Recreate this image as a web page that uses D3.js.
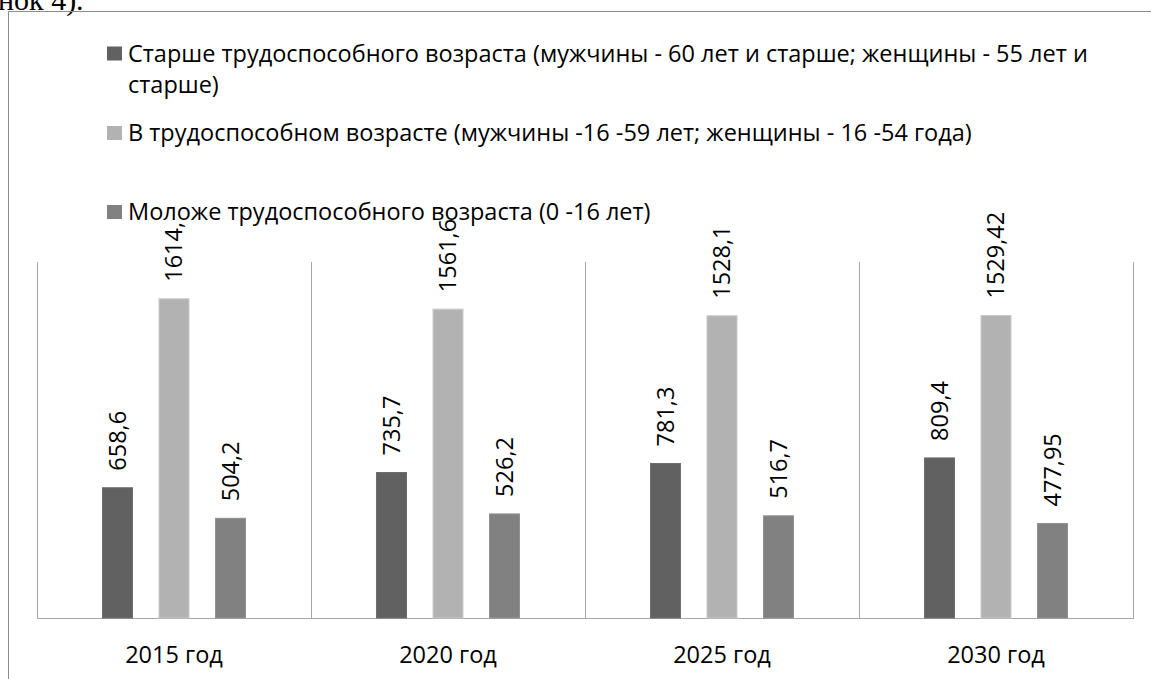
<!DOCTYPE html>
<html><head><meta charset="utf-8">
<script src="https://cdn.jsdelivr.net/npm/d3@7"></script>
<style>body{margin:0;background:#fff}svg{display:block}</style>
</head><body>
<script>
const categories = ["2015 год","2020 год","2025 год","2030 год"];
const seriesNames = [
  ["Старше трудоспособного возраста (мужчины - 60 лет и старше; женщины - 55 лет и","старше)"],
  ["В трудоспособном возрасте (мужчины -16 -59 лет; женщины - 16 -54 года)"],
  ["Моложе трудоспособного возраста (0 -16 лет)"]
];
const olderValues = [658.6, 735.7, 781.3, 809.4];
const workingValues = [1614, 1561.6, 1528.1, 1529.42];
const youngerValues = [504.2, 526.2, 516.7, 477.95];
const olderLabels = ["658,6","735,7","781,3","809,4"];
const workingLabels = ["1614,","1561,6","1528,1","1529,42"];
const youngerLabels = ["504,2","526,2","516,7","477,95"];
const colors = ["#616161","#b2b2b2","#818181"];
const yMax = 1800;

const series = [
  {name: seriesNames[0], values: olderValues, labels: olderLabels},
  {name: seriesNames[1], values: workingValues, labels: workingLabels},
  {name: seriesNames[2], values: youngerValues, labels: youngerLabels}
];

const W = 1151, H = 679;
const svg = d3.select("body").append("svg").attr("width", W).attr("height", H);
const font = "'Open Sans', 'Noto Sans', sans-serif";

// page text above the chart (cut off at the top, as in the source)
svg.append("text").attr("x", -2).attr("y", 10)
  .attr("font-family", "'Liberation Serif', 'Times New Roman', serif")
  .attr("font-size", 30).attr("fill", "#000").text("нок 4).");

// outer chart frame
svg.append("path").attr("d", "M8.5,679 V11.5 H1151")
  .attr("fill", "none").attr("stroke", "#8c8c8c").attr("stroke-width", 1);

const plot = {left: 37, right: 1133, top: 262, bottom: 618};
const x = d3.scaleBand().domain(categories).range([plot.left, plot.right]).padding(0);
const xs = d3.scaleBand().domain(d3.range(series.length))
  .range([0, x.bandwidth()]).paddingInner(0.469).paddingOuter(1.159);
const y = d3.scaleLinear().domain([0, yMax]).range([plot.bottom, plot.top]);

// plot area lines: category separators + left/right edges + baseline
const gridColor = "#a6a6a6";
const edges = categories.map(c => x(c)).concat([plot.right]);
svg.append("g").selectAll("line").data(edges).join("line")
  .attr("x1", d => Math.round(d) + 0.5).attr("x2", d => Math.round(d) + 0.5)
  .attr("y1", plot.top).attr("y2", plot.bottom)
  .attr("stroke", gridColor).attr("stroke-width", 1);
svg.append("line").attr("x1", plot.left).attr("x2", plot.right + 1)
  .attr("y1", plot.bottom + 0.5).attr("y2", plot.bottom + 0.5)
  .attr("stroke", gridColor).attr("stroke-width", 1);

// bars
series.forEach((s, si) => {
  const g = svg.append("g");
  g.selectAll("rect").data(categories).join("rect")
    .attr("x", (c) => x(c) + xs(si))
    .attr("width", xs.bandwidth())
    .attr("y", (c, i) => y(s.values[i]))
    .attr("height", (c, i) => y(0) - y(s.values[i]))
    .attr("fill", colors[si])
    .attr("stroke", d3.color(colors[si]).brighter(0.35))
    .attr("stroke-width", 1);
  g.selectAll("text").data(categories).join("text")
    .attr("transform", (c, i) => {
      const cx = x(c) + xs(si) + xs.bandwidth() / 2;
      const cy = y(s.values[i]) - 17;
      return `translate(${cx},${cy}) rotate(-90)`;
    })
    .attr("dy", "0.36em")
    .attr("font-family", font).attr("font-size", 23.5).attr("fill", "#000")
    .text((c, i) => s.labels[i]);
});

// category axis labels
svg.append("g").selectAll("text").data(categories).join("text")
  .attr("x", c => x(c) + x.bandwidth() / 2).attr("y", 663)
  .attr("text-anchor", "middle")
  .attr("font-family", font).attr("font-size", 23.5).attr("fill", "#000")
  .text(c => c);

// legend
const legendRows = [61.5, 141, 220];
series.forEach((s, si) => {
  const by = legendRows[si];
  svg.append("rect").attr("x", 107).attr("y", by - 15).attr("width", 15).attr("height", 14)
    .attr("fill", colors[si]);
  const t = svg.append("text").attr("x", 128).attr("y", by)
    .attr("font-family", font).attr("font-size", 23.5).attr("fill", "#000");
  s.name.forEach((line, li) => {
    t.append("tspan").attr("x", 128).attr("dy", li === 0 ? 0 : 31.5).text(line);
  });
});
</script>
</body></html>
